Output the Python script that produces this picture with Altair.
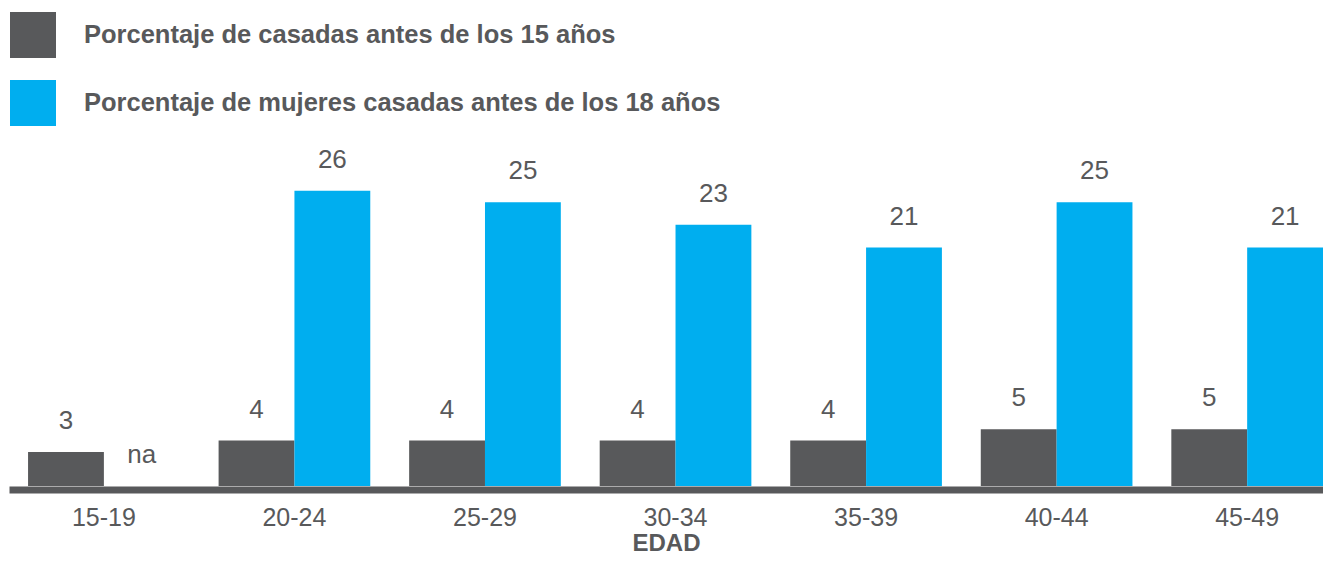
import altair as alt
import pandas as pd

ages = ["15-19", "20-24", "25-29", "30-34", "35-39", "40-44", "45-49"]
antes15 = [3, 4, 4, 4, 4, 5, 5]
antes18 = [None, 26, 25, 23, 21, 25, 21]
series = ["Porcentaje de casadas antes de los 15 años",
          "Porcentaje de mujeres casadas antes de los 18 años"]
colors = ["#58595b", "#00aeef"]
TXT = "#58595b"
FONT = "Liberation Sans"

rows = []
for i, a in enumerate(ages):
    for s, vals in zip(series, [antes15, antes18]):
        v = vals[i]
        rows.append({
            "edad": a,
            "serie": s,
            "valor": v,
            "ypos": 0 if v is None else v,
            "etiqueta": "na" if v is None else str(v),
        })
df = pd.DataFrame(rows)

xenc = alt.X("edad:N", sort=ages, title="EDAD",
             scale=alt.Scale(paddingInner=0.204, paddingOuter=0.05, align=1),
             axis=alt.Axis(labelAngle=0, ticks=False, domainColor="#58595b",
                           domainWidth=7, offset=3.5, labelFont=FONT,
                           labelFontSize=25, labelColor=TXT, labelPadding=16,
                           titleFont=FONT, titleFontSize=24, titleFontWeight="bold",
                           titleColor=TXT, titlePadding=1, grid=False))
xoff = alt.XOffset("serie:N", sort=series,
                   scale=alt.Scale(paddingInner=0, paddingOuter=0))
yscale = alt.Scale(domain=[0, 42.1], nice=False, zero=True)

bars = alt.Chart(df).mark_bar(opacity=1).encode(
    x=xenc,
    xOffset=xoff,
    y=alt.Y("valor:Q", scale=yscale, axis=None),
    color=alt.Color("serie:N", sort=series,
                    scale=alt.Scale(domain=series, range=colors),
                    legend=alt.Legend(title=None, orient="none", legendX=1, legendY=4,
                                      symbolType="square", symbolSize=2116,
                                      symbolStrokeWidth=0, symbolOpacity=1,
                                      labelFont=FONT, labelFontWeight="bold",
                                      labelFontSize=25.5, labelColor=TXT,
                                      labelOffset=28, rowPadding=22, padding=0,
                                      labelLimit=0)),
)

labels = alt.Chart(df).mark_text(
    baseline="bottom", dy=-18, font=FONT, fontSize=26, color=TXT
).encode(
    x=alt.X("edad:N", sort=ages),
    xOffset=xoff,
    y=alt.Y("ypos:Q", scale=yscale, axis=None),
    text="etiqueta:N",
)

chart = alt.layer(bars, labels).properties(
    width=1314, height=478,
    autosize=alt.AutoSizeParams(type="none"),
    padding={"left": 1, "right": 0, "top": 0, "bottom": 71},
).configure_view(stroke=None)

chart.save("out.html", embed_options={"renderer": "svg", "actions": False})
